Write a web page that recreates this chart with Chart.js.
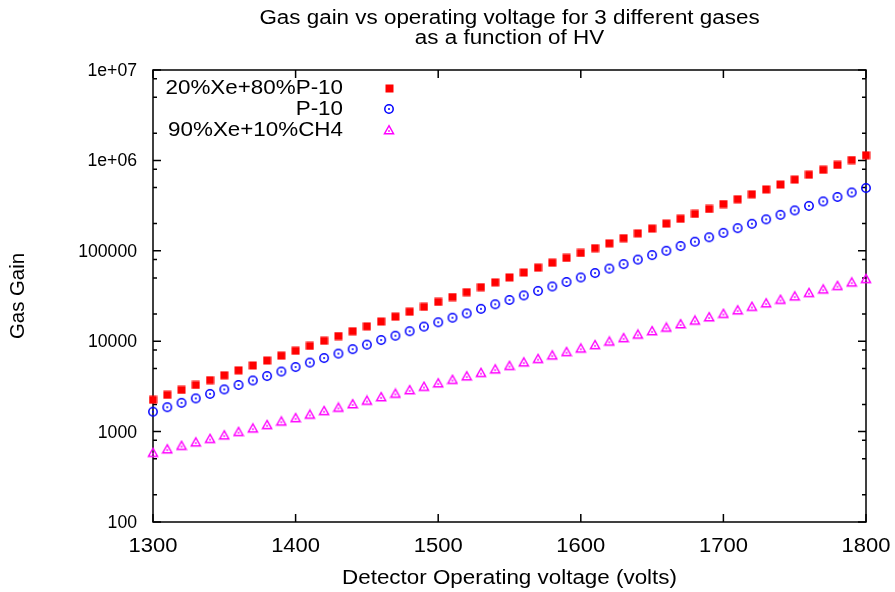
<!DOCTYPE html>
<html>
<head>
<meta charset="utf-8">
<title>Gas gain vs operating voltage</title>
<script src="https://cdn.jsdelivr.net/npm/chart.js@4.4.1/dist/chart.umd.min.js"></script>
<style>
  html, body { margin: 0; padding: 0; background: #ffffff; }
  #wrap { width: 895px; height: 592px; }
</style>
</head>
<body>
<div id="wrap"><canvas id="chart" width="895" height="592"></canvas></div>
<script>
// Detector high voltage (volts)
const voltages = [1300,1310,1320,1330,1340,1350,1360,1370,1380,1390,
                  1400,1410,1420,1430,1440,1450,1460,1470,1480,1490,
                  1500,1510,1520,1530,1540,1550,1560,1570,1580,1590,
                  1600,1610,1620,1630,1640,1650,1660,1670,1680,1690,
                  1700,1710,1720,1730,1740,1750,1760,1770,1780,1790,1800];

// Gas gain, 20%Xe + 80%P-10
const gainXeP10 = [2250,2550,2890,3280,3710,4200,4760,5390,6110,6920,
                   7830,8870,10100,11400,12900,14600,16500,18700,21200,24000,
                   27200,30800,34900,39600,44800,50800,57500,65100,73800,83500,
                   94600,107000,121000,138000,156000,176000,200000,226000,256000,290000,
                   329000,372000,422000,478000,541000,613000,694000,787000,891000,1010000,1140000];

// Gas gain, P-10
const gainP10 = [1660,1860,2080,2330,2610,2930,3280,3680,4120,4620,
                 5180,5800,6510,7290,8170,9160,10300,11500,12900,14500,
                 16200,18200,20300,22800,25600,28600,32100,36000,40300,45200,
                 50700,56800,63600,71300,79900,89600,100000,113000,126000,141000,
                 158000,178000,199000,223000,250000,280000,314000,352000,394000,442000,495000];

// Gas gain, 90%Xe + 10%CH4
const gainXeCH4 = [586,640,700,764,835,913,997,1090,1190,1300,
                   1420,1550,1700,1850,2020,2210,2420,2640,2890,3150,
                   3440,3760,4110,4490,4910,5360,5860,6400,7000,7640,
                   8350,9120,9970,10900,11900,13000,14200,15500,17000,18500,
                   20200,22100,24200,26400,28900,31500,34400,37600,41100,44900,49100];

const seriesNames = ['20%Xe+80%P-10', 'P-10', '90%Xe+10%CH4'];

// Axis ticks
const xTicks = [1300, 1400, 1500, 1600, 1700, 1800];
const yTicks = [100, 1000, 10000, 100000, 1000000, 10000000];
const yTickLabels = ['100', '1000', '10000', '100000', '1e+06', '1e+07'];
const yMinorFactors = [2, 5, 8];

const titleLines = ['Gas gain vs operating voltage for 3 different gases', 'as a function of HV'];
const xTitle = 'Detector Operating voltage (volts)';
const yTitle = 'Gas Gain';

const FONT = '"Liberation Sans", Arial, Helvetica, sans-serif';

// ---- point markers (gnuplot-like) ----
function makeSquare(color) {
  const c = document.createElement('canvas');
  c.width = 9; c.height = 9;
  const g = c.getContext('2d');
  g.fillStyle = color;
  g.fillRect(0.5, 0.5, 8, 8);
  return c;
}
function makeCircle(color) {
  const c = document.createElement('canvas');
  c.width = 12; c.height = 12;
  const g = c.getContext('2d');
  g.strokeStyle = color;
  g.lineWidth = 1.5;
  g.beginPath();
  g.arc(6, 6, 4.2, 0, Math.PI * 2);
  g.stroke();
  g.fillStyle = color;
  g.beginPath();
  g.arc(6, 6, 1, 0, Math.PI * 2);
  g.fill();
  return c;
}
function makeTriangle(color) {
  const c = document.createElement('canvas');
  c.width = 12; c.height = 12;
  const g = c.getContext('2d');
  g.strokeStyle = color;
  g.lineWidth = 1.4;
  g.beginPath();
  g.moveTo(6, 1.6);
  g.lineTo(10.6, 9.8);
  g.lineTo(1.4, 9.8);
  g.closePath();
  g.stroke();
  g.fillStyle = color;
  g.beginPath();
  g.arc(6, 7, 0.9, 0, Math.PI * 2);
  g.fill();
  return c;
}

const markers = [makeSquare('#ff0000'), makeCircle('#0000ff'), makeTriangle('#ff00ff')];
const colors = ['#ff0000', '#0000ff', '#ff00ff'];
const seriesValues = [gainXeP10, gainP10, gainXeCH4];

function toPoints(values) {
  return voltages.map((v, i) => ({ x: v, y: values[i] }));
}

// Text with a slight horizontal stretch
function drawText(ctx, text, x, y, opts) {
  ctx.save();
  ctx.translate(x, y);
  if (opts.rotate) ctx.rotate(opts.rotate);
  ctx.scale(opts.sx || 1, 1);
  ctx.font = opts.font;
  ctx.fillStyle = '#000000';
  ctx.textAlign = opts.align || 'center';
  ctx.textBaseline = opts.baseline || 'alphabetic';
  ctx.fillText(text, 0, 0);
  ctx.restore();
}

// Frame with inward tick marks on all four sides
const framePlugin = {
  id: 'frame',
  beforeDatasetsDraw(chart) {
    const { ctx, chartArea: a, scales } = chart;
    const xs = scales.x, ys = scales.y;
    ctx.save();
    ctx.strokeStyle = '#000000';
    ctx.lineWidth = 1.5;
    ctx.beginPath();
    const major = 8, minor = 4;
    xTicks.forEach(v => {
      const px = xs.getPixelForValue(v);
      ctx.moveTo(px, a.bottom); ctx.lineTo(px, a.bottom - major);
      ctx.moveTo(px, a.top); ctx.lineTo(px, a.top + major);
    });
    yTicks.forEach((v, i) => {
      const py = ys.getPixelForValue(v);
      ctx.moveTo(a.left, py); ctx.lineTo(a.left + major, py);
      ctx.moveTo(a.right, py); ctx.lineTo(a.right - major, py);
      if (i < yTicks.length - 1) {
        yMinorFactors.forEach(f => {
          const pm = ys.getPixelForValue(v * f);
          ctx.moveTo(a.left, pm); ctx.lineTo(a.left + minor, pm);
          ctx.moveTo(a.right, pm); ctx.lineTo(a.right - minor, pm);
        });
      }
    });
    ctx.stroke();
    ctx.strokeRect(a.left, a.top, a.right - a.left, a.bottom - a.top);
    ctx.restore();
  },
  afterDraw(chart) {
    const { ctx, chartArea: a, scales } = chart;
    const xs = scales.x, ys = scales.y;
    const cx = (a.left + a.right) / 2;

    // title
    drawText(ctx, titleLines[0], cx, 24, { font: '20px ' + FONT, sx: 1.12 });
    drawText(ctx, titleLines[1], cx, 44, { font: '20px ' + FONT, sx: 1.12 });

    // tick labels
    xTicks.forEach(v => {
      drawText(ctx, String(v), xs.getPixelForValue(v), 552, { font: '20px ' + FONT, sx: 1.1 });
    });
    yTicks.forEach((v, i) => {
      drawText(ctx, yTickLabels[i], 137, ys.getPixelForValue(v) + 1, { font: '18px ' + FONT, sx: 0.98, align: 'right', baseline: 'middle' });
    });

    // axis titles
    drawText(ctx, xTitle, cx, 584, { font: '20px ' + FONT, sx: 1.12 });
    drawText(ctx, yTitle, 18, (a.top + a.bottom) / 2, { font: '20px ' + FONT, sx: 1.02, rotate: -Math.PI / 2, baseline: 'middle' });

    // key
    const rows = [88, 109, 130];
    chart.data.datasets.forEach((ds, i) => {
      drawText(ctx, ds.label, 343, rows[i], { font: '20px ' + FONT, sx: 1.12, align: 'right', baseline: 'middle' });
      const m = markers[i];
      ctx.drawImage(m, Math.round(389 - m.width / 2), Math.round(rows[i] - m.height / 2));
    });
  }
};

new Chart(document.getElementById('chart'), {
  type: 'scatter',
  data: {
    datasets: seriesValues.map((vals, i) => ({
      label: seriesNames[i],
      data: toPoints(vals),
      pointStyle: markers[i],
      pointRadius: 4,
      pointHoverRadius: 4,
      borderColor: colors[i],
      backgroundColor: colors[i],
      showLine: false,
      clip: false
    }))
  },
  options: {
    responsive: false,
    devicePixelRatio: 1,
    animation: false,
    events: [],
    layout: { padding: { left: 153, right: 29, top: 70, bottom: 70 } },
    plugins: {
      legend: { display: false },
      title: { display: false },
      tooltip: { enabled: false }
    },
    scales: {
      x: { type: 'linear', min: 1300, max: 1800, display: false },
      y: { type: 'logarithmic', min: 100, max: 10000000, display: false }
    }
  },
  plugins: [framePlugin]
});
</script>
</body>
</html>
